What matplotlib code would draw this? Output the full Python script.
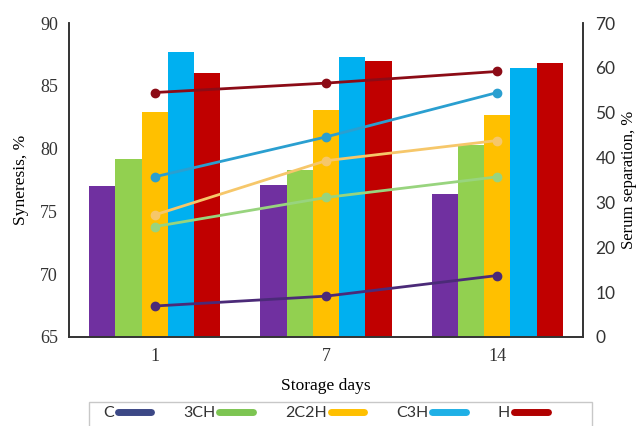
import numpy as np
import matplotlib
matplotlib.use("Agg")
import matplotlib.pyplot as plt
from matplotlib.lines import Line2D
from matplotlib.patches import Rectangle

# Data
days = ["1", "7", "14"]
groups = ["C", "3CH", "2C2H", "C3H", "H"]

syneresis_c = [77.0, 77.1, 76.4]
syneresis_3ch = [79.2, 78.3, 80.3]
syneresis_2c2h = [82.9, 83.1, 82.65]
syneresis_c3h = [87.7, 87.3, 86.4]
syneresis_h = [86.0, 87.0, 86.8]

serum_c = [6.9, 9.1, 13.7]
serum_3ch = [24.6, 31.1, 35.7]
serum_2c2h = [27.2, 39.3, 43.8]
serum_c3h = [35.7, 44.6, 54.5]
serum_h = [54.5, 56.6, 59.2]

bar_colors = ["#7030a0", "#92d050", "#ffc000", "#00b0f0", "#c00000"]
line_colors = ["#4b2a78", "#98d47e", "#f6c76a", "#2a9fd0", "#8c0b16"]
legend_colors = ["#3c4886", "#7dc552", "#ffc000", "#1fb0e6", "#b00000"]

serif = ["Liberation Serif", "DejaVu Serif"]
sans = ["Lato", "DejaVu Sans"]

fig = plt.figure(figsize=(6.43, 4.26), dpi=100)
ax = fig.add_axes([0.1073, 0.209, 0.7994, 0.737])
ax2 = ax.twinx()

x = np.arange(len(days))
w = 0.153
syn = [syneresis_c, syneresis_3ch, syneresis_2c2h, syneresis_c3h, syneresis_h]
ser = [serum_c, serum_3ch, serum_2c2h, serum_c3h, serum_h]

for i, vals in enumerate(syn):
    ax.bar(x + (i - 2) * w, np.array(vals) - 65, bottom=65, width=w,
           color=bar_colors[i], edgecolor="none", zorder=2)

for i, vals in enumerate(ser):
    ax2.plot(x, vals, color=line_colors[i], lw=2.0, marker="o", ms=6,
             solid_capstyle="round", zorder=3)

ax.set_xlim(-0.5, 2.5)
ax.set_ylim(65, 90)
ax.set_yticks([65, 70, 75, 80, 85, 90])
ax2.set_ylim(0, 70)
ax2.set_yticks(range(0, 71, 10))

ax.set_xticks(x)
ax.set_xticklabels(days, fontfamily=serif, fontsize=13)
for t in ax.get_yticklabels():
    t.set_fontfamily(serif)
    t.set_fontsize(13)
for t in ax2.get_yticklabels():
    t.set_fontfamily(sans)
    t.set_fontsize(12.5)
    t.set_color("#333333")

ax.tick_params(axis="both", length=0, pad=8, colors="#333333")
ax2.tick_params(axis="y", length=0, pad=9)

for a in (ax, ax2):
    a.spines["top"].set_visible(False)
    for s in ("left", "right", "bottom"):
        a.spines[s].set_color("#333333")
        a.spines[s].set_linewidth(1.2)

ax.set_xlabel("Storage days", fontfamily=serif, fontsize=12.5, labelpad=9)
ax.set_ylabel("Syneresis, %", fontfamily=serif, fontsize=12.5, labelpad=8)
ax2.set_ylabel("Serum separation, %", fontfamily=serif, fontsize=12, labelpad=4)

# legend box, cut off by the bottom edge like in the source image
top = 1 - 402 / 426
fig.patches.append(Rectangle((89 / 643, -0.05), 503 / 643, top + 0.05,
                             transform=fig.transFigure, fill=False,
                             edgecolor="#c8c8c8", lw=1.0))

handles = [Line2D([0], [0], color=c, lw=5, solid_capstyle="round") for c in legend_colors]
leg = fig.legend(handles, groups, loc="upper left",
                 bbox_to_anchor=(103 / 643, 1 - 406 / 426),
                 ncol=5, markerfirst=False, frameon=False,
                 handlelength=2.1, handletextpad=0.25, columnspacing=2.0,
                 borderpad=0, borderaxespad=0,
                 prop={"family": sans, "size": 11.5})
for t in leg.get_texts():
    t.set_color("#333333")

fig.savefig("out.png", dpi=100)
